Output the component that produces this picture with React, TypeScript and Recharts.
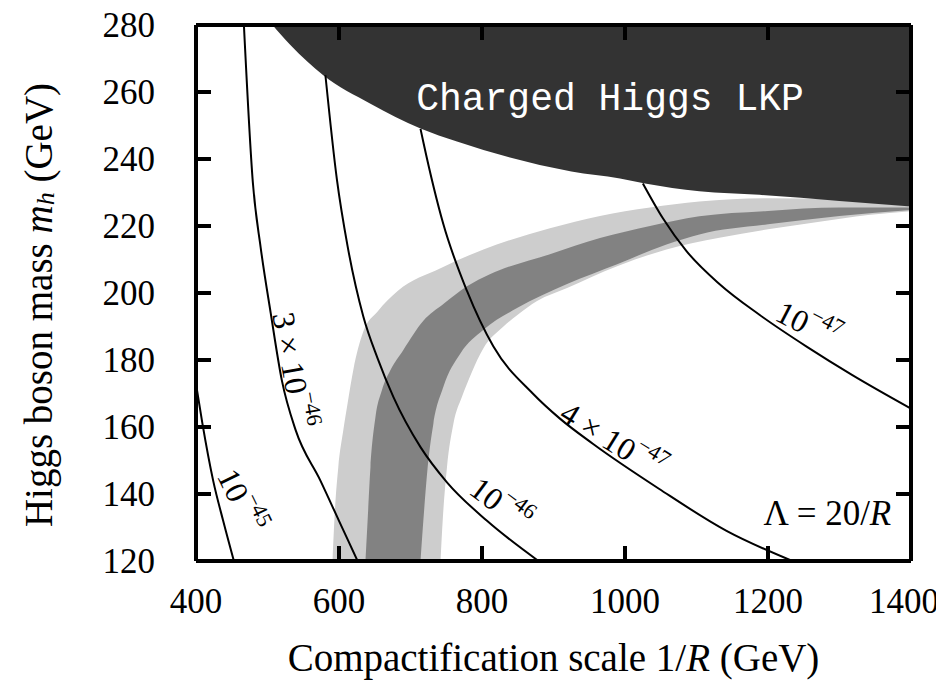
import React from "react";
import { ComposedChart, Area, Line, XAxis, YAxis, ReferenceDot } from "recharts";

const SERIF = "'Liberation Serif', 'Times New Roman', serif";
const MONO = "'Liberation Mono', 'Courier New', monospace";
const W = 944;
const H = 696;

const xTicks = [400, 600, 800, 1000, 1200, 1400];
const yTicks = [120, 140, 160, 180, 200, 220, 240, 260, 280];

// lower edge of the charged Higgs LKP region (region above is excluded)
const lkpEdge = [
  { x: 507, y: 280 }, { x: 532, y: 274 }, { x: 556, y: 269 }, { x: 578, y: 265 },
  { x: 644, y: 256.5 }, { x: 714, y: 249.1 }, { x: 765, y: 245.2 }, { x: 925, y: 236.3 },
  { x: 993, y: 234.2 }, { x: 1028, y: 232.7 }, { x: 1104, y: 230.4 }, { x: 1188, y: 229.3 },
  { x: 1300, y: 227.5 }, { x: 1400, y: 225.8 },
];

// relic density bands (outer = light, inner = dark)
const lightUpper = [
  { x: 591, y: 120 }, { x: 594, y: 134 }, { x: 599, y: 148 }, { x: 606, y: 159 },
  { x: 612, y: 167 }, { x: 620, y: 177 }, { x: 634, y: 188.5 }, { x: 654, y: 194.5 },
  { x: 682, y: 200.6 }, { x: 742, y: 207.4 }, { x: 802, y: 213 }, { x: 895, y: 219.3 },
  { x: 965, y: 223 }, { x: 1035, y: 225.5 }, { x: 1104, y: 227.3 }, { x: 1200, y: 228.3 },
  { x: 1300, y: 228 }, { x: 1400, y: 226.5 },
];
const darkUpper = [
  { x: 637, y: 120 }, { x: 640, y: 132 }, { x: 644, y: 148 }, { x: 651, y: 163 },
  { x: 660, y: 171 }, { x: 672, y: 177 }, { x: 690, y: 183 }, { x: 718, y: 191.7 },
  { x: 746, y: 196.7 }, { x: 779, y: 202 }, { x: 811, y: 205.6 }, { x: 895, y: 211.6 },
  { x: 965, y: 216.4 }, { x: 1035, y: 220 }, { x: 1104, y: 222.9 }, { x: 1200, y: 224.5 },
  { x: 1300, y: 225.5 }, { x: 1400, y: 225.5 },
];
const darkLower = [
  { x: 714, y: 120 }, { x: 719, y: 135 }, { x: 724, y: 148 }, { x: 732, y: 161 },
  { x: 746, y: 172 }, { x: 770, y: 182 }, { x: 802, y: 189 }, { x: 849, y: 195.5 },
  { x: 919, y: 202.7 }, { x: 989, y: 208.6 }, { x: 1058, y: 214.5 }, { x: 1104, y: 217.5 },
  { x: 1200, y: 220.5 }, { x: 1300, y: 223 }, { x: 1400, y: 224.8 },
];
const lightLower = [
  { x: 742, y: 120 }, { x: 745, y: 132 }, { x: 751, y: 148 }, { x: 760, y: 161 },
  { x: 772, y: 169 }, { x: 785, y: 176 }, { x: 802, y: 183.5 }, { x: 830, y: 190 },
  { x: 850, y: 193.5 }, { x: 877, y: 197.6 }, { x: 919, y: 201.5 }, { x: 989, y: 208 },
  { x: 1058, y: 213 }, { x: 1132, y: 216.5 }, { x: 1200, y: 219 }, { x: 1272, y: 221.3 },
  { x: 1340, y: 223.3 }, { x: 1400, y: 224.4 },
];

// cross-section contours
const c1e45 = [
  { x: 401, y: 171.5 }, { x: 409, y: 161 }, { x: 424, y: 144 }, { x: 438, y: 132 }, { x: 453, y: 120 },
];
const c3e46 = [
  { x: 467, y: 280 }, { x: 479.5, y: 233 }, { x: 490.5, y: 213.5 }, { x: 504.5, y: 194 },
  { x: 520, y: 174 }, { x: 539.5, y: 159 }, { x: 574, y: 144 }, { x: 600, y: 132 }, { x: 626, y: 120 },
];
const c1e46 = [
  { x: 581, y: 265 }, { x: 597, y: 234 }, { x: 612, y: 214 }, { x: 634, y: 193 },
  { x: 654, y: 180.5 }, { x: 676, y: 169 }, { x: 714, y: 154 }, { x: 751, y: 143.5 },
  { x: 807, y: 132 }, { x: 879, y: 120 },
];
const c4e47 = [
  { x: 714, y: 249 }, { x: 718, y: 245 }, { x: 746, y: 220.5 }, { x: 779, y: 200.6 },
  { x: 816, y: 184 }, { x: 871, y: 170 }, { x: 909, y: 162.5 }, { x: 955, y: 155 },
  { x: 1048, y: 141.5 }, { x: 1142, y: 129 }, { x: 1234, y: 120 },
];
const c1e47 = [
  { x: 1025, y: 232.7 }, { x: 1053, y: 222.3 }, { x: 1086, y: 212.5 }, { x: 1132, y: 202.7 },
  { x: 1188, y: 193.5 }, { x: 1254, y: 184 }, { x: 1318, y: 175.5 }, { x: 1400, y: 165.5 },
];

const contours = [c1e45, c3e46, c1e46, c4e47, c1e47];

// contour labels: anchor in data units, text rotation in degrees
const contourLabels = [
  { x: 463, y: 138, angle: 64, pre: "", exp: "−45" },
  { x: 536, y: 177, angle: 80, pre: "3 × ", exp: "−46" },
  { x: 826, y: 137, angle: 37, pre: "", exp: "−46" },
  { x: 983, y: 156, angle: 32, pre: "4 × ", exp: "−47" },
  { x: 1256, y: 190.5, angle: 27, pre: "", exp: "−47" },
];

const BottomTick = (props: any) => {
  const { x, y, payload } = props;
  // keep the last label inside the picture
  const tx = Math.min(x, W - 40);
  return (
    <g>
      <line x1={x} y1={y} x2={x} y2={y - 15} stroke="#000" strokeWidth={4} />
      <text x={tx} y={y + 40} textAnchor="middle" dominantBaseline="central" fontSize={35} fontFamily={SERIF} fill="#000" stroke="none" fontWeight="normal">
        {payload.value}
      </text>
    </g>
  );
};
const TopTick = (props: any) => (
  <line x1={props.x} y1={props.y} x2={props.x} y2={props.y + 15} stroke="#000" strokeWidth={4} />
);
const LeftTick = (props: any) => {
  const { x, y, payload } = props;
  return (
    <g>
      <line x1={x} y1={y} x2={x + 15} y2={y} stroke="#000" strokeWidth={4} />
      <text x={x - 41} y={y} textAnchor="end" dominantBaseline="central" fontSize={35} fontFamily={SERIF} fill="#000" stroke="none" fontWeight="normal">
        {payload.value}
      </text>
    </g>
  );
};
const RightTick = (props: any) => (
  <line x1={props.x} y1={props.y} x2={props.x - 15} y2={props.y} stroke="#000" strokeWidth={4} />
);

const XTitle = (props: any) => {
  const vb = props.viewBox || { x: 196, y: 561, width: 715 };
  return (
    <text x={vb.x + vb.width / 2} y={vb.y + 110} textAnchor="middle" fontSize={39} fontFamily={SERIF} fill="#000" stroke="none">
      Compactification scale 1/<tspan fontStyle="italic">R</tspan> (GeV)
    </text>
  );
};
const YTitle = (props: any) => {
  const vb = props.viewBox || { x: 0, y: 25, height: 536 };
  const cx = 38;
  const cy = vb.y + vb.height / 2 + 12;
  return (
    <text transform={`translate(${cx},${cy}) rotate(-90)`} textAnchor="middle" dominantBaseline="central" fontSize={39} fontFamily={SERIF} fill="#000" stroke="none">
      Higgs boson mass <tspan fontStyle="italic">m</tspan>
      <tspan fontStyle="italic" fontSize={26} dy={7}>h</tspan>
      <tspan dy={-7}> (GeV)</tspan>
    </text>
  );
};

const labelShape = (l: any) => (props: any) => (
  <text
    transform={`translate(${props.cx},${props.cy}) rotate(${l.angle})`}
    textAnchor="middle"
    dominantBaseline="central"
    fontSize={32}
    fontFamily={SERIF}
    fill="#000"
    stroke="none"
  >
    {l.pre}10<tspan fontSize={22} dy={-13}>{l.exp}</tspan>
  </text>
);

export default function App() {
  return (
    <div style={{ width: W, height: H, margin: -8, background: "#fff" }}>
      <ComposedChart width={W} height={H} margin={{ top: 20, right: 29, bottom: 35, left: 0 }}>
        {/* bands: layered fills down to the x axis */}
        <Area data={lightUpper} dataKey="y" type="monotone" baseValue={120} fill="#cdcdcd" fillOpacity={1} stroke="none" dot={false} activeDot={false} isAnimationActive={false} />
        <Area data={darkUpper} dataKey="y" type="monotone" baseValue={120} fill="#828282" fillOpacity={1} stroke="none" dot={false} activeDot={false} isAnimationActive={false} />
        <Area data={darkLower} dataKey="y" type="monotone" baseValue={120} fill="#cdcdcd" fillOpacity={1} stroke="none" dot={false} activeDot={false} isAnimationActive={false} />
        <Area data={lightLower} dataKey="y" type="monotone" baseValue={120} fill="#ffffff" fillOpacity={1} stroke="none" dot={false} activeDot={false} isAnimationActive={false} />

        {/* charged Higgs LKP excluded region */}
        <Area data={lkpEdge} dataKey="y" type="monotone" baseValue={280} fill="#333333" fillOpacity={1} stroke="none" dot={false} activeDot={false} isAnimationActive={false} />

        {contours.map((c, i) => (
          <Line key={i} data={c} dataKey="y" type="monotone" stroke="#000" strokeWidth={2} dot={false} activeDot={false} isAnimationActive={false} />
        ))}

        {contourLabels.map((l, i) => (
          <ReferenceDot key={i} x={l.x} y={l.y} r={1} shape={labelShape(l)} />
        ))}
        <ReferenceDot
          x={979}
          y={254.7}
          r={1}
          shape={(p: any) => (
            <text x={p.cx} y={p.cy} textAnchor="middle" fontSize={38} fontFamily={MONO} fill="#fff" stroke="none">
              Charged Higgs LKP
            </text>
          )}
        />
        <ReferenceDot
          x={1283}
          y={134.3}
          r={1}
          shape={(p: any) => (
            <text x={p.cx} y={p.cy} textAnchor="middle" dominantBaseline="central" fontSize={35} fontFamily={SERIF} fill="#000" stroke="none">
              Λ = 20/<tspan fontStyle="italic">R</tspan>
            </text>
          )}
        />

        <XAxis type="number" dataKey="x" domain={[400, 1400]} ticks={xTicks} allowDataOverflow height={100}
          axisLine={{ stroke: "#000", strokeWidth: 4 }} tickLine={false} tickSize={0} tickMargin={0}
          tick={<BottomTick />} interval={0} label={{ content: <XTitle /> }} />
        <XAxis xAxisId="top" orientation="top" type="number" dataKey="x" domain={[400, 1400]} ticks={xTicks} allowDataOverflow height={5}
          axisLine={{ stroke: "#000", strokeWidth: 4 }} tickLine={false} tickSize={0} tickMargin={0}
          tick={<TopTick />} interval={0} />
        <YAxis type="number" dataKey="y" domain={[120, 280]} ticks={yTicks} allowDataOverflow width={196}
          axisLine={{ stroke: "#000", strokeWidth: 4 }} tickLine={false} tickSize={0} tickMargin={0}
          tick={<LeftTick />} interval={0} label={{ content: <YTitle /> }} />
        <YAxis yAxisId="right" orientation="right" type="number" dataKey="y" domain={[120, 280]} ticks={yTicks} allowDataOverflow width={4}
          axisLine={{ stroke: "#000", strokeWidth: 4 }} tickLine={false} tickSize={0} tickMargin={0}
          tick={<RightTick />} interval={0} />
      </ComposedChart>
    </div>
  );
}
